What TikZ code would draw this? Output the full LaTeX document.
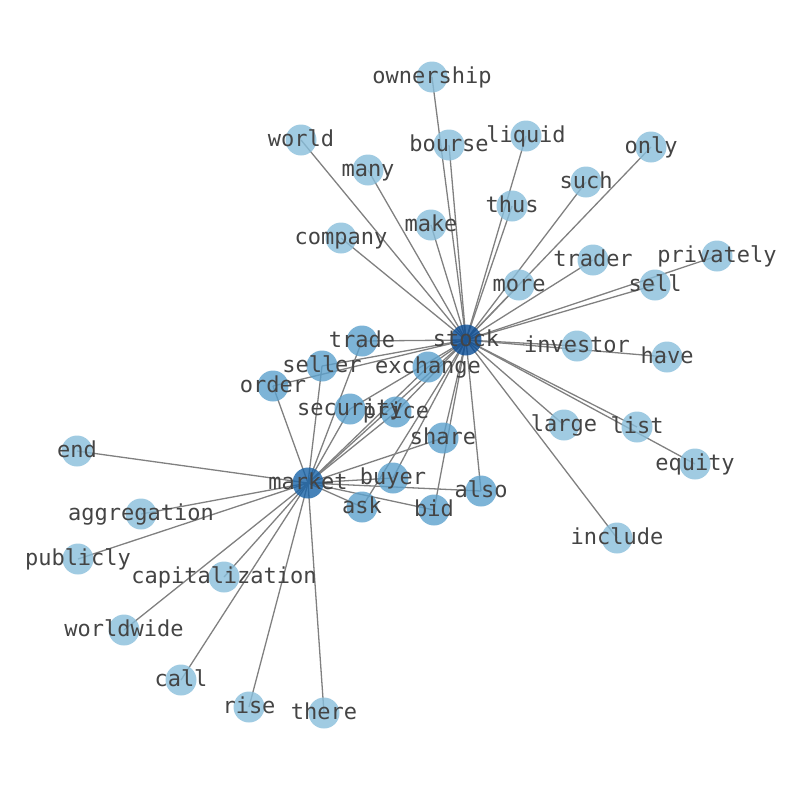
\documentclass[tikz,border=0pt]{standalone}
\usepackage{fontspec}
\newfontfamily\labfont{DejaVu Sans Mono}
\usetikzlibrary{backgrounds}
\definecolor{edgegray}{RGB}{128,128,128}
\definecolor{labgray}{RGB}{68,68,68}
\definecolor{nlight}{RGB}{136,190,219}
\definecolor{nmed}{RGB}{92,161,205}
\definecolor{nmarket}{RGB}{24,99,167}
\definecolor{nstock}{RGB}{8,76,150}
\tikzset{
  nd/.style={circle,inner sep=0pt,minimum size=31pt,fill opacity=0.8},
  lightnd/.style={nd,fill=nlight},
  mednd/.style={nd,fill=nmed},
  marketnd/.style={nd,fill=nmarket},
  stocknd/.style={nd,fill=nstock},
  lab/.style={inner sep=0pt,text=labgray,font=\labfont\fontsize{22}{26}\selectfont,text height=13pt,text depth=0pt},
  edge/.style={draw=edgegray,line width=1.3pt}
}
\begin{document}
\begin{tikzpicture}[x=1pt,y=-1pt]
\useasboundingbox (0,0) rectangle (794,790);
% nodes
\node[stocknd] (stock) at (466,340) {};
\node[marketnd] (market) at (308,483) {};
\foreach \n/\x/\y in {trade/362/341,seller/322/366,exchange/428/367,order/273/386,security/350/409,price/396/412,share/443/438,buyer/393/478,also/481/491,ask/362/507,bid/434/510}
  {\node[mednd] (\n) at (\x,\y) {};}
\foreach \n/\x/\y in {ownership/432/77,world/301/140,bourse/449/145,liquid/526/136,only/651/147,many/368/170,such/586/182,thus/512/206,make/431/225,company/341/238,privately/717/256,trader/593/260,more/519/285,sell/655/285,investor/577/346,have/667/357,large/564/425,list/637/427,equity/695/464,include/617/538}
  {\node[lightnd] (\n) at (\x,\y) {};}
\foreach \n/\x/\y in {end/77/451,aggregation/141/514,publicly/78/559,capitalization/224/577,worldwide/124/630,call/181/680,rise/249/707,there/324/713}
  {\node[lightnd] (\n) at (\x,\y) {};}
% edges
\begin{scope}[on background layer]
\foreach \n in {ownership,world,bourse,liquid,only,many,such,thus,make,company,privately,trader,more,sell,investor,have,large,list,equity,include,trade,seller,exchange,order,security,price,share,buyer,also,ask,bid,market}
  {\draw[edge] (stock.center) -- (\n.center);}
\foreach \n in {end,aggregation,publicly,capitalization,worldwide,call,rise,there,trade,seller,exchange,order,security,price,share,buyer,also,ask,bid}
  {\draw[edge] (market.center) -- (\n.center);}
\end{scope}
% labels
\foreach \n in {stock,market,trade,seller,exchange,order,security,price,share,buyer,also,ask,bid,ownership,world,bourse,liquid,only,many,such,thus,make,company,privately,trader,more,sell,investor,have,large,list,equity,include,end,aggregation,publicly,capitalization,worldwide,call,rise,there}
  {\node[lab] (l-\n) at (\n.center) {\n};}
\end{tikzpicture}
\end{document}
